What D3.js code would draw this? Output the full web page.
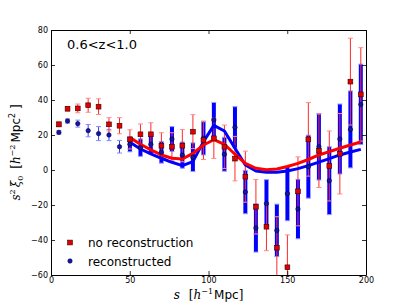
<!DOCTYPE html>
<html>
<head>
<meta charset="utf-8">
<script src="https://cdn.jsdelivr.net/npm/d3@7"></script>
<style>
  body { margin: 0; background: #fff; }
  svg { display: block; font-family: "DejaVu Sans", sans-serif; }
</style>
</head>
<body>
<div id="vis"></div>
<script>
// bin centres (effective s) in h^-1 Mpc
const S_VALUES = [5.0, 10.5, 17.0, 23.6, 30.2, 36.8, 43.5, 50.1, 56.8, 63.4, 70.1, 76.8, 83.4, 90.1, 96.8,
  103.4, 110.1, 116.8, 123.4, 130.1, 136.8, 143.4, 150.1, 156.8, 163.4, 170.1, 176.7, 183.4, 190.1, 196.7];

const NO_RECON = [26.1, 35.0, 35.2, 37.0, 36.2, 26.1, 25.3, 17.5, 20.4, 20.4, 13.9, 13.3, 13.9, 21.9, 17.0,
  18.1, 13.3, 6.5, -3.8, -21.0, -32.4, -44.4, -55.6, -12.2, 17.5, 11.0, 2.3, 9.3, 50.5, 43.2];
const NO_RECON_ERR = [1.5, 1.2, 2.5, 4.0, 4.5, 3.8, 4.6, 5.5, 5.9, 6.6, 7.4, 8.0, 9.2, 9.7, 11.0,
  11.5, 12.4, 12.7, 14.6, 15.6, 13.7, 17.7, 18.5, 19.7, 21.0, 21.0, 20.0, 23.0, 24.8, 26.7];

const RECON = [21.5, 28.0, 26.5, 22.5, 20.8, 20.0, 13.3, 14.7, 12.8, 14.7, 10.1, 17.7, 8.5, 7.3, 18.1,
  28.6, 9.0, 24.4, -12.6, -33.1, -19.2, -34.5, -13.5, -22.3, 1.9, 13.3, -6.1, 17.7, 23.2, 37.5];
const RECON_ERR = [1.0, 1.2, 2.0, 3.5, 4.0, 3.2, 3.6, 4.3, 5.0, 5.5, 6.2, 7.1, 7.5, 8.2, 9.5,
  10.0, 9.7, 11.8, 12.4, 13.8, 13.7, 15.0, 15.5, 17.0, 18.0, 19.0, 19.4, 20.0, 22.0, 23.0];

// best fit models
const MODEL_S = [50.1, 56.8, 63.4, 70.1, 76.8, 83.4, 90.1, 96.8, 103.4, 110.1, 116.8, 123.4, 130.1,
  136.8, 143.4, 150.1, 156.8, 163.4, 170.1, 176.7, 183.4, 190.1, 196.7];
const MODEL_NO_RECON = [18.5, 14.7, 11.5, 8.6, 6.7, 6.3, 9.5, 14.3, 17.3, 14.7, 9.0, 3.8, 1.0,
  0.2, 0.6, 2.0, 3.8, 6.0, 8.6, 10.5, 12.4, 14.3, 16.0];
const MODEL_RECON = [15.8, 12.0, 9.2, 6.7, 4.4, 2.5, 4.8, 16.2, 25.5, 22.3, 12.4, 2.9, -0.6,
  -1.3, -1.3, -0.6, 0.8, 2.5, 4.5, 6.5, 8.6, 10.3, 11.8];

const X_TICKS = [0, 50, 100, 150, 200];
const Y_TICKS = [-60, -40, -20, 0, 20, 40, 60, 80];
const THICK_FROM = 48; // recon error bars drawn thick beyond this s

const WIDTH = 407, HEIGHT = 305;
const M = { left: 51, right: 41, top: 30, bottom: 30 };

const svg = d3.select("#vis").append("svg").attr("width", WIDTH).attr("height", HEIGHT);

const x = d3.scaleLinear().domain([0, 200]).range([M.left, WIDTH - M.right]);
const y = d3.scaleLinear().domain([-60, 80]).range([HEIGHT - M.bottom, M.top]);

svg.append("clipPath").attr("id", "clip")
  .append("rect")
  .attr("x", M.left).attr("y", M.top)
  .attr("width", WIDTH - M.left - M.right).attr("height", HEIGHT - M.top - M.bottom);

const plot = svg.append("g").attr("clip-path", "url(#clip)");

const recon = S_VALUES.map((s, i) => ({ s, v: RECON[i], e: RECON_ERR[i] }));
const noRecon = S_VALUES.map((s, i) => ({ s, v: NO_RECON[i], e: NO_RECON_ERR[i] }));

function errorBars(data, color, capColor, width) {
  const g = plot.append("g");
  g.selectAll("line.bar").data(data).enter().append("line")
    .attr("x1", d => x(d.s)).attr("x2", d => x(d.s))
    .attr("y1", d => y(d.v - d.e)).attr("y2", d => y(d.v + d.e))
    .attr("stroke", color).attr("stroke-width", width);
  [-1, 1].forEach(sign => {
    g.selectAll(null).data(data).enter().append("line")
      .attr("x1", d => x(d.s) - 2.5).attr("x2", d => x(d.s) + 2.5)
      .attr("y1", d => y(d.v + sign * d.e)).attr("y2", d => y(d.v + sign * d.e))
      .attr("stroke", capColor).attr("stroke-width", 1);
  });
}

// blue error bars: thin at small s, thick beyond
errorBars(recon.filter(d => d.s < THICK_FROM), "#3a3aff", "#8a8aff", 1);
errorBars(recon.filter(d => d.s >= THICK_FROM), "#0000ff", "#9a9aff", 4);
// red error bars
errorBars(noRecon, "#ff2a2a", "#ff8a8a", 1);

// model lines
const line = d3.line().x(d => x(d[0])).y(d => y(d[1]));
plot.append("path")
  .datum(MODEL_S.map((s, i) => [s, MODEL_RECON[i]]))
  .attr("d", line).attr("fill", "none")
  .attr("stroke", "#0000ff").attr("stroke-width", 3).attr("stroke-linejoin", "round");
plot.append("path")
  .datum(MODEL_S.map((s, i) => [s, MODEL_NO_RECON[i]]))
  .attr("d", line).attr("fill", "none")
  .attr("stroke", "#ff0000").attr("stroke-width", 3).attr("stroke-linejoin", "round");

// markers
const CIRCLE_R = 2.2, SQUARE = 4.8;
plot.selectAll("circle.recon").data(recon).enter().append("circle")
  .attr("cx", d => x(d.s)).attr("cy", d => y(d.v)).attr("r", CIRCLE_R)
  .attr("fill", "#1414a8").attr("stroke", "#000033").attr("stroke-width", 0.6);
plot.selectAll("rect.norecon").data(noRecon).enter().append("rect")
  .attr("x", d => x(d.s) - SQUARE / 2).attr("y", d => y(d.v) - SQUARE / 2)
  .attr("width", SQUARE).attr("height", SQUARE)
  .attr("fill", "#e00000").attr("stroke", "#3a0000").attr("stroke-width", 0.6);

// axes, ticks pointing inwards on all four sides
const axisStyle = g => {
  g.selectAll("path.domain").attr("stroke", "#000").attr("stroke-width", 1);
  g.selectAll(".tick line").attr("stroke", "#000").attr("stroke-width", 0.8);
  g.selectAll(".tick text").attr("fill", "#000").style("font-size", "8px")
    .style("font-family", "'DejaVu Sans', sans-serif");
};
svg.append("g").attr("transform", `translate(0,${HEIGHT - M.bottom})`)
  .call(d3.axisBottom(x).tickValues(X_TICKS).tickSizeInner(-4).tickSizeOuter(0).tickPadding(2))
  .call(axisStyle);
svg.append("g").attr("transform", `translate(0,${M.top})`)
  .call(d3.axisTop(x).tickValues(X_TICKS).tickSizeInner(-4).tickSizeOuter(0).tickFormat(""))
  .call(axisStyle);
svg.append("g").attr("transform", `translate(${M.left},0)`)
  .call(d3.axisLeft(y).tickValues(Y_TICKS).tickSizeInner(-4).tickSizeOuter(0).tickPadding(3))
  .call(axisStyle);
svg.append("g").attr("transform", `translate(${WIDTH - M.right},0)`)
  .call(d3.axisRight(y).tickValues(Y_TICKS).tickSizeInner(-4).tickSizeOuter(0).tickFormat(""))
  .call(axisStyle);

// math-like labels built from tspans
const SERIF = "'DejaVu Serif', serif";
const SANS = "'DejaVu Sans', sans-serif";
function mathText(sel, parts) {
  let shift = 0;
  parts.forEach(p => {
    const target = p.shift || 0;
    const ts = sel.append("tspan")
      .attr("dy", target - shift)
      .style("font-family", p.serif ? SERIF : SANS)
      .style("font-style", p.italic ? "italic" : "normal")
      .style("font-size", (p.size || 12) + "px")
      .text(p.t);
    if (p.dx) ts.attr("dx", p.dx);
    shift = target;
  });
}

const yLabel = svg.append("text")
  .attr("transform", `translate(20,${(M.top + HEIGHT - M.bottom) / 2}) rotate(-90)`)
  .attr("text-anchor", "middle").attr("fill", "#000");
mathText(yLabel, [
  { t: "s", italic: true, serif: true },
  { t: "2", size: 8, shift: -5, serif: true },
  { t: "ξ", italic: true, serif: true, dx: 2 },
  { t: "0", size: 8, shift: 3, serif: true },
  { t: "  [", serif: true, dx: 3 },
  { t: "h", italic: true, serif: true },
  { t: "−2", size: 8, shift: -5, serif: true },
  { t: "Mpc", dx: 2 },
  { t: "2", size: 8, shift: -5 },
  { t: " ]", serif: true }
]);

const xLabel = svg.append("text")
  .attr("x", (M.left + WIDTH - M.right) / 2).attr("y", 299)
  .attr("text-anchor", "middle").attr("fill", "#000");
mathText(xLabel, [
  { t: "s", italic: true, serif: true },
  { t: "[", serif: true, dx: 9 },
  { t: "h", italic: true, serif: true },
  { t: "−1", size: 8, shift: -5, serif: true },
  { t: "Mpc", dx: 1 },
  { t: "]", serif: true }
]);

// redshift annotation
svg.append("text").attr("x", 67).attr("y", 48.5)
  .style("font-size", "13px").attr("fill", "#000")
  .text("0.6<z<1.0");

// legend
const legend = svg.append("g");
legend.append("rect").attr("x", 70 - SQUARE / 2).attr("y", 242.5 - SQUARE / 2)
  .attr("width", SQUARE).attr("height", SQUARE)
  .attr("fill", "#e00000").attr("stroke", "#3a0000").attr("stroke-width", 0.6);
legend.append("text").attr("x", 88).attr("y", 247).style("font-size", "12px").text("no reconstruction");
legend.append("circle").attr("cx", 70).attr("cy", 261).attr("r", CIRCLE_R)
  .attr("fill", "#1414c0").attr("stroke", "#000033").attr("stroke-width", 0.6);
legend.append("text").attr("x", 88).attr("y", 265.5).style("font-size", "12px").text("reconstructed");
</script>
</body>
</html>
